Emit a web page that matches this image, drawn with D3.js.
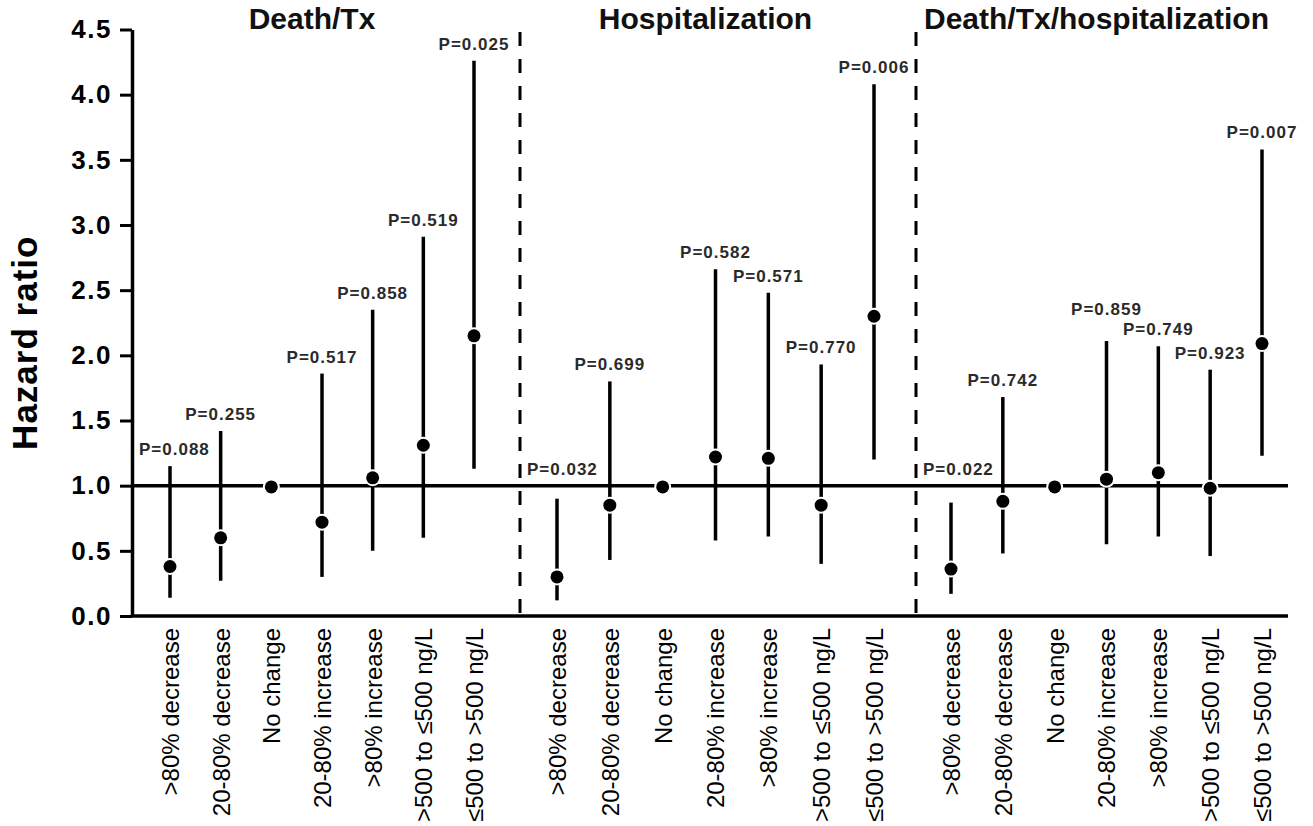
<!DOCTYPE html>
<html>
<head>
<meta charset="utf-8">
<script src="https://cdn.jsdelivr.net/npm/d3@7"></script>
<style>
  html, body { margin: 0; padding: 0; background: #fff; }
  svg { display: block; font-family: "Liberation Sans", Arial, sans-serif; }
</style>
</head>
<body>
<svg id="chart" width="1313" height="826"></svg>
<script>
// categories shared by every panel
const categories = [
  '>80% decrease', '20-80% decrease', 'No change', '20-80% increase',
  '>80% increase', '>500 to \u2264500 ng/L', '\u2264500 to >500 ng/L'
];
const outcomes = ['Death/Tx', 'Hospitalization', 'Death/Tx/hospitalization'];

// hazard ratios, 95% CI and P values
const deathTxHR    = [0.38, 0.60, 0.99, 0.72, 1.06, 1.31, 2.15];
const deathTxLower = [0.14, 0.27, null, 0.30, 0.50, 0.60, 1.13];
const deathTxUpper = [1.15, 1.42, null, 1.86, 2.35, 2.91, 4.26];
const deathTxP     = ['0.088', '0.255', null, '0.517', '0.858', '0.519', '0.025'];

const hospHR    = [0.30, 0.85, 0.99, 1.22, 1.21, 0.85, 2.30];
const hospLower = [0.12, 0.43, null, 0.58, 0.61, 0.40, 1.20];
const hospUpper = [0.90, 1.80, null, 2.66, 2.48, 1.93, 4.08];
const hospP     = ['0.032', '0.699', null, '0.582', '0.571', '0.770', '0.006'];

const comboHR    = [0.36, 0.88, 0.99, 1.05, 1.10, 0.98, 2.09];
const comboLower = [0.17, 0.48, null, 0.55, 0.61, 0.46, 1.23];
const comboUpper = [0.87, 1.68, null, 2.11, 2.07, 1.89, 3.58];
const comboP     = ['0.022', '0.742', null, '0.859', '0.749', '0.923', '0.007'];

const yTicks = [0, 0.5, 1, 1.5, 2, 2.5, 3, 3.5, 4, 4.5];

const series = [
  {hr: deathTxHR, lo: deathTxLower, hi: deathTxUpper, p: deathTxP},
  {hr: hospHR, lo: hospLower, hi: hospUpper, p: hospP},
  {hr: comboHR, lo: comboLower, hi: comboUpper, p: comboP}
];

// layout
const panelEdges = [132, 520, 916, 1288];
const pointInset = [[38, 46], [37, 42], [35, 26]];
const yTop = 29.5, yBottom = 616;

const svg = d3.select('#chart');

const y = d3.scaleLinear().domain([0, 4.5]).range([yBottom, yTop]);

// y axis
const yAxis = svg.append('g')
  .attr('transform', `translate(${panelEdges[0]},0)`)
  .call(d3.axisLeft(y).tickValues(yTicks).tickFormat(d3.format('.1f'))
    .tickSize(12).tickSizeOuter(0).tickPadding(8));
yAxis.select('.domain').attr('stroke-width', 3.5);
yAxis.selectAll('.tick line').attr('stroke-width', 3);
yAxis.selectAll('.tick text')
  .attr('font-family', '"Liberation Sans", Arial, sans-serif')
  .attr('font-size', 26)
  .attr('font-weight', 'bold')
  .attr('letter-spacing', 1.5)
  .attr('fill', '#000');

svg.append('text')
  .attr('transform', `translate(37,${(y(0) + y(4.5)) / 2 + 20}) rotate(-90)`)
  .attr('text-anchor', 'middle')
  .attr('font-size', 35)
  .attr('font-weight', 'bold')
  .attr('letter-spacing', 1)
  .text('Hazard ratio');

// bottom axis line
svg.append('line')
  .attr('x1', panelEdges[0]).attr('x2', panelEdges[3])
  .attr('y1', y(0)).attr('y2', y(0))
  .attr('stroke', '#000').attr('stroke-width', 3.5);

// reference line at HR = 1
svg.append('line')
  .attr('x1', panelEdges[0]).attr('x2', panelEdges[3])
  .attr('y1', y(1)).attr('y2', y(1))
  .attr('stroke', '#000').attr('stroke-width', 3.5);

// dashed separators between panels
svg.selectAll('line.sep')
  .data(panelEdges.slice(1, 3))
  .join('line')
  .attr('class', 'sep')
  .attr('x1', d => d).attr('x2', d => d)
  .attr('y1', y(4.48)).attr('y2', y(0))
  .attr('stroke', '#000').attr('stroke-width', 3)
  .attr('stroke-dasharray', '14,13');

outcomes.forEach((name, i) => {
  const x = d3.scalePoint()
    .domain(categories)
    .range([panelEdges[i] + pointInset[i][0], panelEdges[i + 1] - pointInset[i][1]]);
  const s = series[i];
  const rows = categories.map((c, j) => ({c, hr: s.hr[j], lo: s.lo[j], hi: s.hi[j], p: s.p[j]}));

  const g = svg.append('g');

  // panel title
  g.append('text')
    .attr('x', d3.mean(x.range()) - 10)
    .attr('y', 29)
    .attr('text-anchor', 'middle')
    .attr('font-size', 30)
    .attr('font-weight', 'bold')
    .attr('fill', '#111')
    .text(name);

  // CI whiskers
  g.selectAll('line.ci')
    .data(rows.filter(d => d.lo != null))
    .join('line')
    .attr('class', 'ci')
    .attr('x1', d => x(d.c)).attr('x2', d => x(d.c))
    .attr('y1', d => y(d.lo)).attr('y2', d => y(d.hi))
    .attr('stroke', '#000').attr('stroke-width', 3.5);

  // point estimates with white halo
  g.selectAll('circle.halo')
    .data(rows)
    .join('circle')
    .attr('class', 'halo')
    .attr('cx', d => x(d.c)).attr('cy', d => y(d.hr))
    .attr('r', 8.5).attr('fill', '#fff');
  g.selectAll('circle.pt')
    .data(rows)
    .join('circle')
    .attr('class', 'pt')
    .attr('cx', d => x(d.c)).attr('cy', d => y(d.hr))
    .attr('r', 6.5).attr('fill', '#000');

  // P-value labels
  const labels = g.selectAll('text.pval')
    .data(rows.filter(d => d.p != null))
    .join('text')
    .attr('class', 'pval')
    .attr('x', d => x(d.c))
    .attr('y', d => Math.min(y(d.hi), y(1)) - 11)
    .attr('text-anchor', 'middle')
    .attr('font-size', 17)
    .attr('font-weight', 'bold')
    .attr('letter-spacing', 1)
    .attr('fill', '#2a2a2a')
    .text(d => 'P=' + d.p)
    .each(function () {
      // keep the label clear of the dashed separator
      const box = this.getBBox();
      const minLeft = panelEdges[i] + 7;
      if (box.x < minLeft) d3.select(this).attr('x', +this.getAttribute('x') + (minLeft - box.x));
    });

  // lift a label if it collides with the next one on its right
  const nodes = labels.nodes();
  for (let k = nodes.length - 2; k >= 0; k--) {
    const a = nodes[k].getBBox(), b = nodes[k + 1].getBBox();
    const overlapX = a.x + a.width > b.x && b.x + b.width > a.x;
    const overlapY = a.y + a.height > b.y && b.y + b.height > a.y;
    if (overlapX && overlapY) {
      nodes[k].setAttribute('y', +nodes[k + 1].getAttribute('y') - 20);
    }
  }

  // category labels
  const xAxis = g.append('g')
    .attr('transform', `translate(0,${y(0)})`)
    .call(d3.axisBottom(x).tickSize(0));
  xAxis.select('.domain').remove();
  xAxis.selectAll('.tick text')
    .attr('transform', 'rotate(-90)')
    .attr('text-anchor', 'end')
    .attr('x', -12)
    .attr('y', 0)
    .attr('dy', '0.35em')
    .attr('font-family', '"Liberation Sans", Arial, sans-serif')
    .attr('font-size', 24)
    .attr('fill', '#000');
});
</script>
</body>
</html>
